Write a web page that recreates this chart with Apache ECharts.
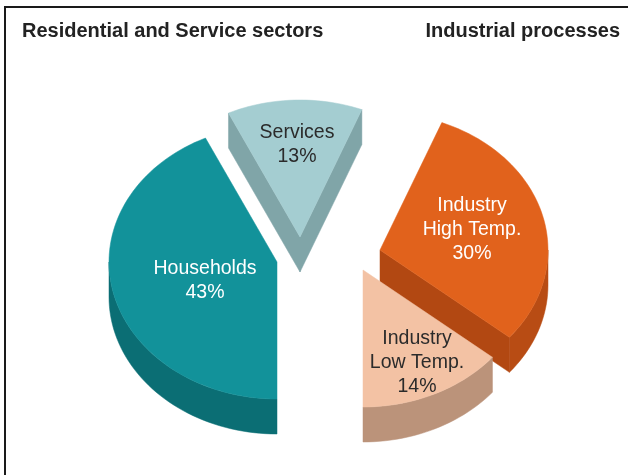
<!DOCTYPE html>
<html>
<head>
<meta charset="utf-8">
<script src="https://cdn.jsdelivr.net/npm/echarts@6/dist/echarts.min.js"></script>
<style>
  html, body { margin: 0; padding: 0; background: #fff; }
  #chart { width: 628px; height: 475px; }
</style>
</head>
<body>
<div id="chart"></div>
<script>
// Final energy demand for heat, by use
const categories = ['Households', 'Services', 'Industry High Temp.', 'Industry Low Temp.'];
const labelLines = [['Households'], ['Services'], ['Industry', 'High Temp.'], ['Industry', 'Low Temp.']];
const shares = [43, 13, 30, 14];
const groupTitles = ['Residential and Service sectors', 'Industrial processes'];

// Tilted-pie geometry (angles clockwise from 12 o'clock)
const PIE = { cx: 320, cy: 262, rx: 168, ry: 137, depth: 35, startAngle: 180 };
const explode = [[-43, 0], [-20, -25], [60, -12], [43, 8]];
const labelOffset = [[-72, 19], [-3, -92], [92, -20], [54, 93]];
const paintRank = [2, 0, 1, 3];           // back slices are painted first
const topColors = ['#12929a', '#a4cdd1', '#e1621c', '#f3c2a4'];
const sideColors = ['#0b6e74', '#7fa4a7', '#b84c14', '#bb937a'];
const radialColors = ['#0d7a80', '#80a5a8', '#b24812', '#c39b82'];
const textColors = ['#ffffff', '#2b2b2b', '#ffffff', '#2b2b2b'];
const FONT = '"Liberation Sans", Arial, Helvetica, sans-serif';

const total = shares.reduce((a, b) => a + b, 0);
const cumulative = shares.map((_, i) => shares.slice(0, i).reduce((a, b) => a + b, 0));

const rad = d => d * Math.PI / 180;
function rimPoint(cx, cy, deg, dz) {
  return [cx + PIE.rx * Math.sin(rad(deg)), cy - PIE.ry * Math.cos(rad(deg)) + dz];
}
function arcPoints(cx, cy, a0, a1, dz) {
  const n = Math.max(2, Math.ceil(Math.abs(a1 - a0) / 2));
  const pts = [];
  for (let k = 0; k <= n; k++) pts.push(rimPoint(cx, cy, a0 + (a1 - a0) * k / n, dz));
  return pts;
}

function renderItem(params, api) {
  const i = params.dataIndex;
  const value = api.value(0);
  const a0 = PIE.startAngle + cumulative[i] / total * 360;
  const a1 = a0 + value / total * 360;
  const cx = PIE.cx + explode[i][0];
  const cy = PIE.cy + explode[i][1];
  const d = PIE.depth;
  const base = paintRank[i] * 10;
  const children = [];

  // outer wall: the part of the rim that faces the viewer (90..270 deg)
  [[90, 270], [450, 630]].forEach(([f0, f1]) => {
    const s0 = Math.max(a0, f0), s1 = Math.min(a1, f1);
    if (s1 > s0) {
      const topArc = arcPoints(cx, cy, s0, s1, 0);
      const botArc = arcPoints(cx, cy, s0, s1, d).reverse();
      children.push({
        type: 'polygon', z2: base + 1,
        shape: { points: topArc.concat(botArc) },
        style: { fill: sideColors[i], stroke: sideColors[i], lineWidth: 0.5 }
      });
    }
  });

  // radial cut faces, drawn when turned towards the viewer
  const radialFace = deg => {
    const p = rimPoint(cx, cy, deg, 0);
    const q = rimPoint(cx, cy, deg, d);
    return {
      type: 'polygon', z2: base + 2,
      shape: { points: [[cx, cy], p, q, [cx, cy + d]] },
      style: { fill: radialColors[i], stroke: radialColors[i], lineWidth: 0.5 }
    };
  };
  if (Math.sin(rad(a0)) < -1e-6) children.push(radialFace(a0));
  if (Math.sin(rad(a1)) > 1e-6) children.push(radialFace(a1));

  // top face
  children.push({
    type: 'polygon', z2: base + 3,
    shape: { points: [[cx, cy]].concat(arcPoints(cx, cy, a0, a1, 0)) },
    style: { fill: topColors[i], stroke: topColors[i], lineWidth: 0.5 }
  });

  // label
  children.push({
    type: 'text', z2: base + 5,
    style: {
      text: labelLines[i].concat([value + '%']).join('\n'),
      x: cx + labelOffset[i][0],
      y: cy + labelOffset[i][1],
      align: 'center', verticalAlign: 'middle',
      fill: textColors[i], font: '19.5px ' + FONT, lineHeight: 24
    }
  });

  return { type: 'group', children };
}

const chart = echarts.init(document.getElementById('chart'), null, { renderer: 'canvas' });
chart.setOption({
  animation: false,
  backgroundColor: '#ffffff',
  graphic: [
    {
      type: 'rect', z: 0,
      shape: { x: 5, y: 7, width: 660, height: 520 },
      style: { fill: 'none', stroke: '#1a1a1a', lineWidth: 2 }
    },
    {
      type: 'text', left: 22, top: 21,
      style: { text: groupTitles[0], font: 'bold 20px ' + FONT, fill: '#222' }
    },
    {
      type: 'text', right: 8, top: 21,
      style: { text: groupTitles[1], font: 'bold 20px ' + FONT, fill: '#222' }
    }
  ],
  series: [{
    type: 'custom',
    coordinateSystem: 'none',
    renderItem: renderItem,
    data: shares.map((v, i) => ({ name: categories[i], value: [v] }))
  }]
});
</script>
</body>
</html>
